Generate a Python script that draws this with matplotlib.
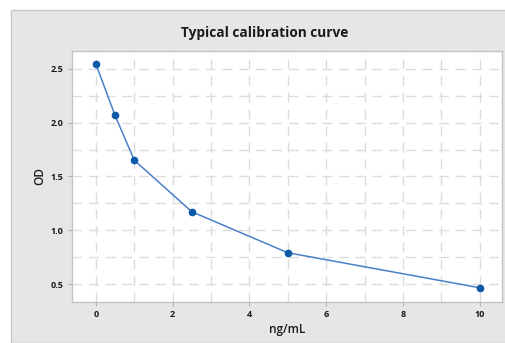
import matplotlib
matplotlib.use("Agg")
import matplotlib.pyplot as plt
from matplotlib.patches import Rectangle
from matplotlib.ticker import MultipleLocator

plt.rcParams["font.family"] = ["Open Sans", "DejaVu Sans"]

conc = [0, 0.5, 1, 2.5, 5, 10]
od = [2.545, 2.068, 1.652, 1.173, 0.793, 0.468]

fig = plt.figure(figsize=(5.05, 3.43), dpi=100)
fig.patch.set_facecolor("white")
# gray panel behind the chart
fig.patches.append(Rectangle((11 / 505, 0), 1, 1 - 10 / 343, transform=fig.transFigure,
                             facecolor="#e6e6e6", edgecolor="#c8c8c8", linewidth=1, zorder=-5))

ax = fig.add_axes([72 / 505, 1 - 302 / 343, 430 / 505, 251 / 343])
ax.set_zorder(1)
ax.set_facecolor("white")
ax.plot(conc, od, color="#4a80c8", linewidth=1.1, marker="o", markersize=4.5,
        markerfacecolor="#0b5aaa", markeredgecolor="#0b5aaa", zorder=3)

ax.set_xlim(-0.62, 10.58)
ax.set_ylim(0.336, 2.664)
ax.xaxis.set_minor_locator(MultipleLocator(1))
ax.yaxis.set_minor_locator(MultipleLocator(0.25))
ax.set_xticks([0, 2, 4, 6, 8, 10])
ax.set_xticklabels(["0", "2", "4", "6", "8", "10"])
ax.set_yticks([0.5, 1.0, 1.5, 2.0, 2.5])
ax.set_yticklabels(["0.5", "1.0", "1.5", "2.0", "2.5"])

ax.grid(which="both", linestyle=(0, (7, 5)), color="#dcdcdc", linewidth=1)
ax.set_axisbelow(True)
for s in ax.spines.values():
    s.set_color("#c4c4c4")
    s.set_linewidth(1)
ax.tick_params(which="major", length=3, color="#b0b0b0", labelsize=6.5, labelcolor="#1a1a1a", pad=3)
ax.tick_params(which="minor", length=0)
for lab in ax.get_xticklabels() + ax.get_yticklabels():
    lab.set_fontweight("bold")

ax.set_xlabel("ng/mL", fontsize=8.5, fontweight="semibold", color="#1a1a1a", labelpad=3)
ax.set_ylabel("OD", fontsize=8.5, fontweight="semibold", color="#1a1a1a", labelpad=3)
fig.text(265 / 505, 1 - 33 / 343, "Typical calibration curve", ha="center", va="center",
         fontsize=9.8, fontweight="bold", color="#1a1a1a")

fig.savefig("out.png", dpi=100)
